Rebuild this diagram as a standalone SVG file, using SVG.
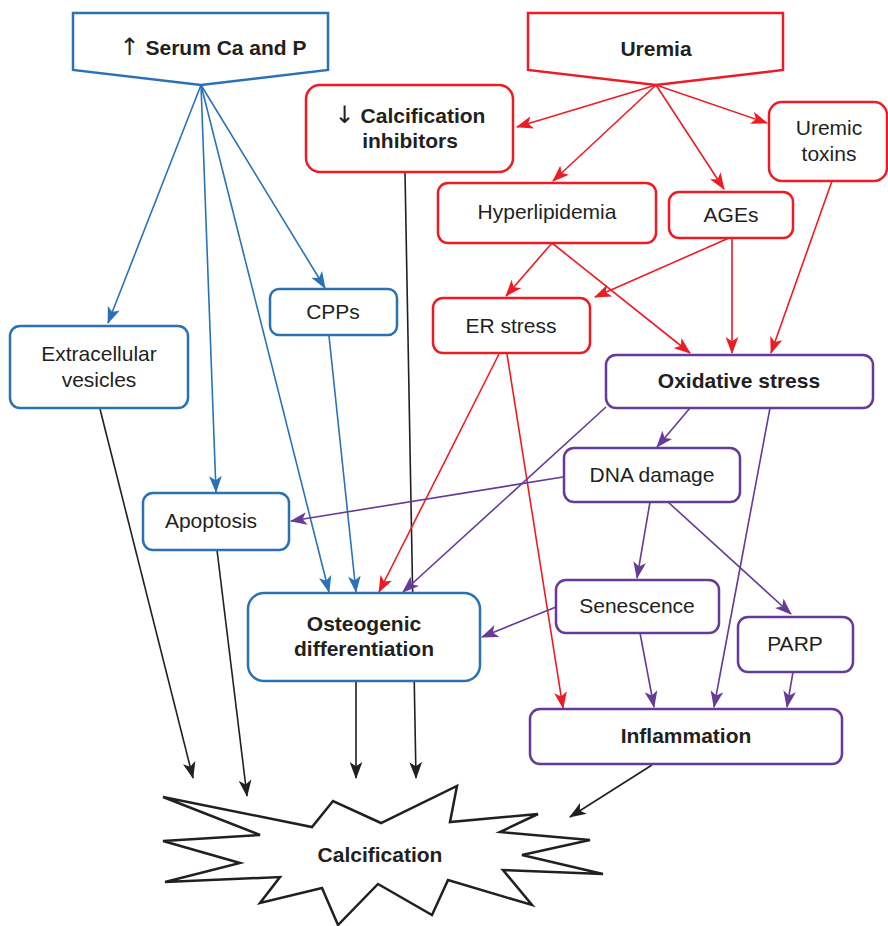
<svg xmlns="http://www.w3.org/2000/svg" width="888" height="926" viewBox="0 0 888 926">
<style>
text{font-family:"Liberation Sans",Arial,"DejaVu Sans",sans-serif;font-size:21px;fill:#231f20;text-anchor:middle}
.b{font-weight:bold}
.ar{font-family:"DejaVu Sans",sans-serif;font-weight:normal;font-size:24px}
.box{fill:#fff;stroke-width:2.5}
.bl{stroke:#2a72b5}
.rd{stroke:#ed1c24}
.pu{stroke:#663a97}
.bk{stroke:#231f20}
.c{fill:none;stroke-width:1.6}
</style>
<defs>
<marker id="mb" viewBox="0 0 16 12" refX="15" refY="6" markerWidth="17" markerHeight="13" markerUnits="userSpaceOnUse" orient="auto"><path d="M0,0 L16,6 L0,12 L4,6 z" fill="#2a72b5"/></marker>
<marker id="mr" viewBox="0 0 16 12" refX="15" refY="6" markerWidth="17" markerHeight="13" markerUnits="userSpaceOnUse" orient="auto"><path d="M0,0 L16,6 L0,12 L4,6 z" fill="#ed1c24"/></marker>
<marker id="mp" viewBox="0 0 16 12" refX="15" refY="6" markerWidth="17" markerHeight="13" markerUnits="userSpaceOnUse" orient="auto"><path d="M0,0 L16,6 L0,12 L4,6 z" fill="#663a97"/></marker>
<marker id="mk" viewBox="0 0 16 12" refX="15" refY="6" markerWidth="17" markerHeight="13" markerUnits="userSpaceOnUse" orient="auto"><path d="M0,0 L16,6 L0,12 L4,6 z" fill="#231f20"/></marker>
</defs>

<g id="connectors">
<!-- blue -->
<line class="c bl" x1="201" y1="85" x2="108" y2="323" marker-end="url(#mb)"/>
<line class="c bl" x1="201" y1="85" x2="216" y2="492" marker-end="url(#mb)"/>
<line class="c bl" x1="201" y1="85" x2="329" y2="592" marker-end="url(#mb)"/>
<line class="c bl" x1="201" y1="85" x2="325" y2="288" marker-end="url(#mb)"/>
<line class="c bl" x1="329" y1="336" x2="356" y2="592" marker-end="url(#mb)"/>
<!-- black -->
<line class="c bk" x1="100" y1="409" x2="193" y2="778" marker-end="url(#mk)"/>
<line class="c bk" x1="217" y1="550" x2="247" y2="796" marker-end="url(#mk)"/>
<line class="c bk" x1="356" y1="681" x2="356" y2="778" marker-end="url(#mk)"/>
<line class="c bk" x1="405" y1="172" x2="416" y2="778" marker-end="url(#mk)"/>
<line class="c bk" x1="652" y1="765" x2="570" y2="817" marker-end="url(#mk)"/>
<!-- red -->
<line class="c rd" x1="656" y1="85" x2="517" y2="127" marker-end="url(#mr)"/>
<line class="c rd" x1="656" y1="85" x2="553" y2="181" marker-end="url(#mr)"/>
<line class="c rd" x1="656" y1="85" x2="724" y2="189" marker-end="url(#mr)"/>
<line class="c rd" x1="656" y1="85" x2="767" y2="123" marker-end="url(#mr)"/>
<line class="c rd" x1="552" y1="243" x2="506" y2="296" marker-end="url(#mr)"/>
<line class="c rd" x1="552" y1="243" x2="690" y2="353" marker-end="url(#mr)"/>
<line class="c rd" x1="729" y1="238" x2="595" y2="297" marker-end="url(#mr)"/>
<line class="c rd" x1="732" y1="238" x2="732" y2="353" marker-end="url(#mr)"/>
<line class="c rd" x1="832" y1="181" x2="771" y2="353" marker-end="url(#mr)"/>
<line class="c rd" x1="499" y1="354" x2="379" y2="592" marker-end="url(#mr)"/>
<line class="c rd" x1="507" y1="354" x2="563" y2="708" marker-end="url(#mr)"/>
<!-- purple -->
<line class="c pu" x1="690" y1="408" x2="657" y2="447" marker-end="url(#mp)"/>
<line class="c pu" x1="606" y1="407" x2="403" y2="592" marker-end="url(#mp)"/>
<line class="c pu" x1="563" y1="477" x2="291" y2="521" marker-end="url(#mp)"/>
<line class="c pu" x1="650" y1="502" x2="637" y2="578" marker-end="url(#mp)"/>
<line class="c pu" x1="668" y1="502" x2="791" y2="614" marker-end="url(#mp)"/>
<line class="c pu" x1="556" y1="607" x2="482" y2="637" marker-end="url(#mp)"/>
<line class="c pu" x1="640" y1="633" x2="654" y2="707" marker-end="url(#mp)"/>
<line class="c pu" x1="770" y1="408" x2="714" y2="707" marker-end="url(#mp)"/>
<line class="c pu" x1="793" y1="672" x2="787" y2="707" marker-end="url(#mp)"/>
</g>

<g id="serum">
<polygon class="box bl" points="73,13 328,13 328,70 201,85 73,70"/>
<text class="b" x="213" y="55"><tspan class="ar">↑</tspan> Serum Ca and P</text>
</g>
<g id="uremia">
<polygon class="box rd" points="528,13 783,13 783,70 656,85 528,70"/>
<text class="b" x="656" y="56">Uremia</text>
</g>
<g id="calc-inhibitors">
<rect class="box rd" x="306" y="85" width="207" height="87" rx="14"/>
<text class="b" x="410" y="123"><tspan class="ar">↓</tspan> Calcification</text>
<text class="b" x="410" y="148">inhibitors</text>
</g>
<g id="uremic-toxins">
<rect class="box rd" x="769" y="102" width="118" height="79" rx="13"/>
<text x="829" y="135">Uremic</text>
<text x="829" y="161">toxins</text>
</g>
<g id="hyperlipidemia">
<rect class="box rd" x="438" y="183" width="218" height="60" rx="10"/>
<text x="547" y="219">Hyperlipidemia</text>
</g>
<g id="ages">
<rect class="box rd" x="669" y="192" width="124" height="46" rx="10"/>
<text x="731" y="222">AGEs</text>
</g>
<g id="cpps">
<rect class="box bl" x="270" y="289" width="127" height="46" rx="9"/>
<text x="333" y="319">CPPs</text>
</g>
<g id="er-stress">
<rect class="box rd" x="433" y="298" width="157" height="55" rx="10"/>
<text x="511" y="333">ER stress</text>
</g>
<g id="extracellular-vesicles">
<rect class="box bl" x="10" y="326" width="178" height="82" rx="10"/>
<text x="99" y="361">Extracellular</text>
<text x="99" y="387">vesicles</text>
</g>
<g id="oxidative-stress">
<rect class="box pu" x="606" y="355" width="267" height="53" rx="10"/>
<text class="b" x="739" y="388">Oxidative stress</text>
</g>
<g id="dna-damage">
<rect class="box pu" x="564" y="448" width="176" height="54" rx="10"/>
<text x="652" y="482">DNA damage</text>
</g>
<g id="apoptosis">
<rect class="box bl" x="143" y="493" width="146" height="57" rx="10"/>
<text x="211" y="528">Apoptosis</text>
</g>
<g id="osteogenic">
<rect class="box bl" x="248" y="593" width="232" height="88" rx="16"/>
<text class="b" x="364" y="631">Osteogenic</text>
<text class="b" x="364" y="656">differentiation</text>
</g>
<g id="senescence">
<rect class="box pu" x="556" y="580" width="163" height="53" rx="10"/>
<text x="637" y="613">Senescence</text>
</g>
<g id="parp">
<rect class="box pu" x="738" y="617" width="115" height="55" rx="10"/>
<text x="795" y="651">PARP</text>
</g>
<g id="inflammation">
<rect class="box pu" x="530" y="709" width="312" height="55" rx="10"/>
<text class="b" x="686" y="743">Inflammation</text>
</g>
<g id="calcification">
<polygon class="box bk" points="163,797 312,827 333,801 381,823 457,786 450,822 538,814 500,832 590,840 522,855 603,874 503,870 532,905 448,880 432,915 378,884 338,925 322,888 260,903 280,877 165,882 240,863 163,841 260,835"/>
<text class="b" x="380" y="862">Calcification</text>
</g>
</svg>
